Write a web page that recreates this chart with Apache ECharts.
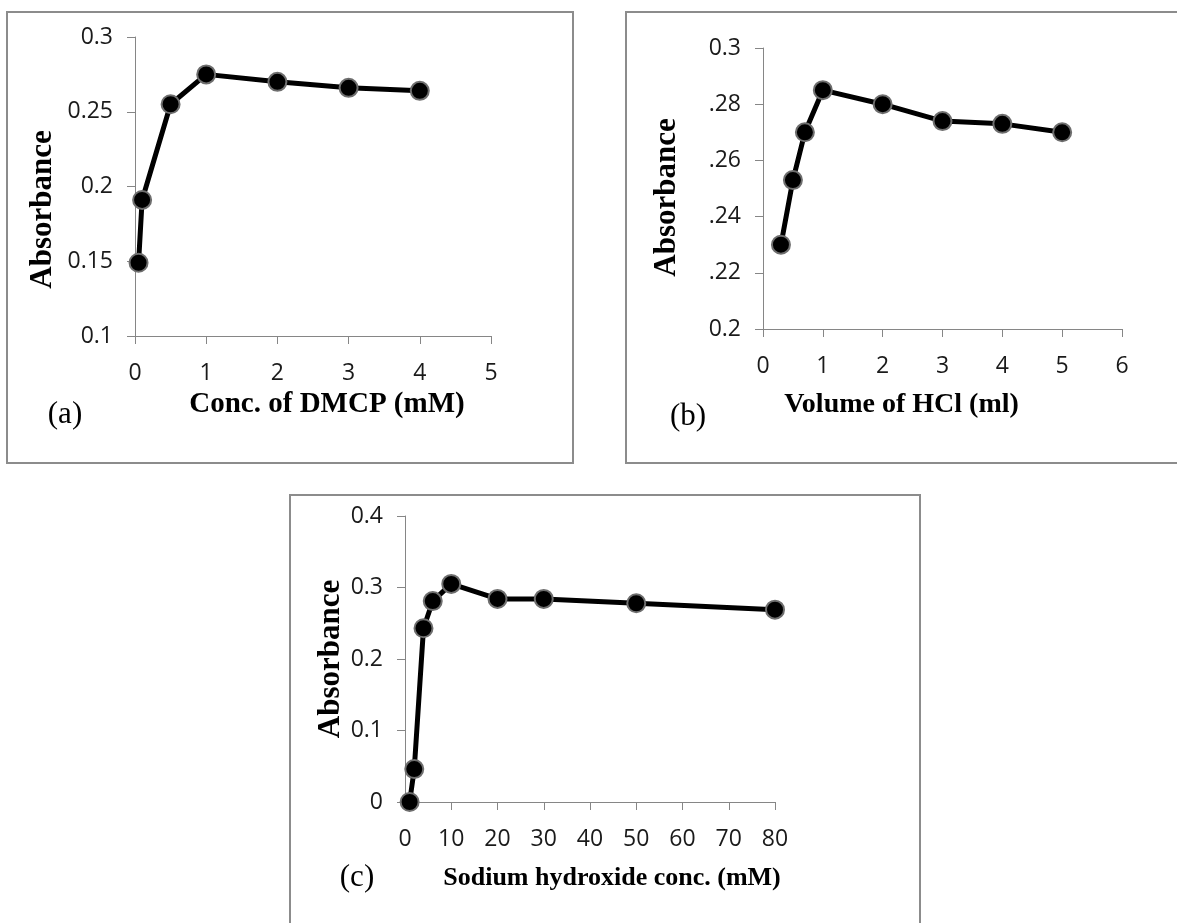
<!DOCTYPE html>
<html>
<head>
<meta charset="utf-8">
<script src="https://cdn.jsdelivr.net/npm/echarts@6/dist/echarts.min.js"></script>
<style>
html,body{margin:0;padding:0;background:#fff;}
#chart{width:1177px;height:923px;}
</style>
</head>
<body>
<div id="chart"></div>
<script>
// Panel (a): Conc. of DMCP
var aX = [0.05, 0.1, 0.5, 1, 2, 3, 4];
var aY = [0.149, 0.191, 0.255, 0.275, 0.270, 0.266, 0.264];
var aYTicks = ['0.1', '0.15', '0.2', '0.25', '0.3'];
var aXTicks = ['0', '1', '2', '3', '4', '5'];

// Panel (b): Volume of HCl
var bX = [0.3, 0.5, 0.7, 1, 2, 3, 4, 5];
var bY = [0.230, 0.253, 0.270, 0.285, 0.280, 0.274, 0.273, 0.270];
var bYTicks = ['0.2', '.22', '.24', '.26', '.28', '0.3'];
var bXTicks = ['0', '1', '2', '3', '4', '5', '6'];

// Panel (c): Sodium hydroxide conc.
var cX = [1, 2, 4, 6, 10, 20, 30, 50, 80];
var cY = [0.000, 0.046, 0.243, 0.281, 0.305, 0.284, 0.284, 0.278, 0.269];
var cYTicks = ['0', '0.1', '0.2', '0.3', '0.4'];
var cXTicks = ['0', '10', '20', '30', '40', '50', '60', '70', '80'];

function pairs(xs, ys) { return xs.map(function (x, i) { return [x, ys[i]]; }); }
function tickFmt(labels, min, step) {
  return function (v) { var i = Math.round((v - min) / step); return labels[i] !== undefined ? labels[i] : ''; };
}

var tickFont = '"Open Sans", "Noto Sans", sans-serif';
var titleFont = '"Liberation Serif", "Times New Roman", serif';
var axisGrey = '#868686';

function xAxisCfg(grid, min, max, step, labels, name, pad, fs, gap) {
  return {
    type: 'value', gridIndex: grid, min: min, max: max, interval: step,
    name: name, nameLocation: 'middle', nameGap: gap,
    nameTextStyle: { fontFamily: titleFont, fontWeight: 'bold', fontSize: fs, color: '#000', padding: pad },
    axisLine: { show: true, lineStyle: { color: axisGrey, width: 1 } },
    axisTick: { show: true, inside: false, length: 8, lineStyle: { color: axisGrey, width: 1 } },
    axisLabel: { margin: 26, fontFamily: tickFont, fontSize: 23, color: '#1a1a1a', formatter: tickFmt(labels, min, step) },
    splitLine: { show: false }
  };
}
function yAxisCfg(grid, min, max, step, labels, gap, pad) {
  return {
    type: 'value', gridIndex: grid, min: min, max: max, interval: step,
    name: 'Absorbance', nameLocation: 'middle', nameGap: gap, nameRotate: 90,
    nameTextStyle: { fontFamily: titleFont, fontWeight: 'bold', fontSize: 31, color: '#000', padding: pad },
    axisLine: { show: true, lineStyle: { color: axisGrey, width: 1 } },
    axisTick: { show: true, inside: false, length: 8, lineStyle: { color: axisGrey, width: 1 } },
    axisLabel: { margin: 22, fontFamily: tickFont, fontSize: 23, color: '#1a1a1a', formatter: tickFmt(labels, min, step) },
    splitLine: { show: false }
  };
}
function lineSeries(idx, data) {
  return {
    type: 'line', xAxisIndex: idx, yAxisIndex: idx, data: data,
    symbol: 'circle', symbolSize: 18, showSymbol: true,
    lineStyle: { color: '#000', width: 5 },
    itemStyle: { color: '#000', borderColor: '#6e6e6e', borderWidth: 2 },
    emphasis: { disabled: true }, animation: false, z: 3
  };
}

var chart = echarts.init(document.getElementById('chart'), null, { renderer: 'canvas' });
chart.setOption({
  backgroundColor: '#fff',
  animation: false,
  grid: [
    { left: 135, top: 37, width: 356, height: 299 },
    { left: 763, top: 48, width: 359, height: 281 },
    { left: 405, top: 516, width: 370, height: 286 }
  ],
  xAxis: [
    xAxisCfg(0, 0, 5, 1, aXTicks, 'Conc. of DMCP (mM)', [0, 0, 0, 28], 29, 54),
    xAxisCfg(1, 0, 6, 1, bXTicks, 'Volume of HCl (ml)', [0, 82, 0, 0], 28, 62),
    xAxisCfg(2, 0, 80, 10, cXTicks, 'Sodium hydroxide conc. (mM)', [0, 0, 0, 44], 26, 63)
  ],
  yAxis: [
    yAxisCfg(0, 0.1, 0.3, 0.05, aYTicks, 77, [0, 46, 0, 0]),
    yAxisCfg(1, 0.2, 0.3, 0.02, bYTicks, 81, [0, 18, 0, 0]),
    yAxisCfg(2, 0, 0.4, 0.1, cYTicks, 58, [0, 0, 0, 0])
  ],
  series: [
    lineSeries(0, pairs(aX, aY)),
    lineSeries(1, pairs(bX, bY)),
    lineSeries(2, pairs(cX, cY))
  ],
  graphic: [
    { type: 'rect', shape: { x: 7, y: 12, width: 566, height: 451 }, style: { fill: 'none', stroke: '#8c8c8c', lineWidth: 2 }, z: 0 },
    { type: 'rect', shape: { x: 626, y: 12, width: 560, height: 451 }, style: { fill: 'none', stroke: '#8c8c8c', lineWidth: 2 }, z: 0 },
    { type: 'rect', shape: { x: 290, y: 495, width: 630, height: 500 }, style: { fill: 'none', stroke: '#8c8c8c', lineWidth: 2 }, z: 0 },
    { type: 'text', x: 65, y: 415, style: { text: '(a)', fontFamily: titleFont, fontSize: 31, fill: '#000', align: 'center', verticalAlign: 'middle' } },
    { type: 'text', x: 688, y: 417, style: { text: '(b)', fontFamily: titleFont, fontSize: 31, fill: '#000', align: 'center', verticalAlign: 'middle' } },
    { type: 'text', x: 357, y: 878, style: { text: '(c)', fontFamily: titleFont, fontSize: 31, fill: '#000', align: 'center', verticalAlign: 'middle' } }
  ]
});
</script>
</body>
</html>
